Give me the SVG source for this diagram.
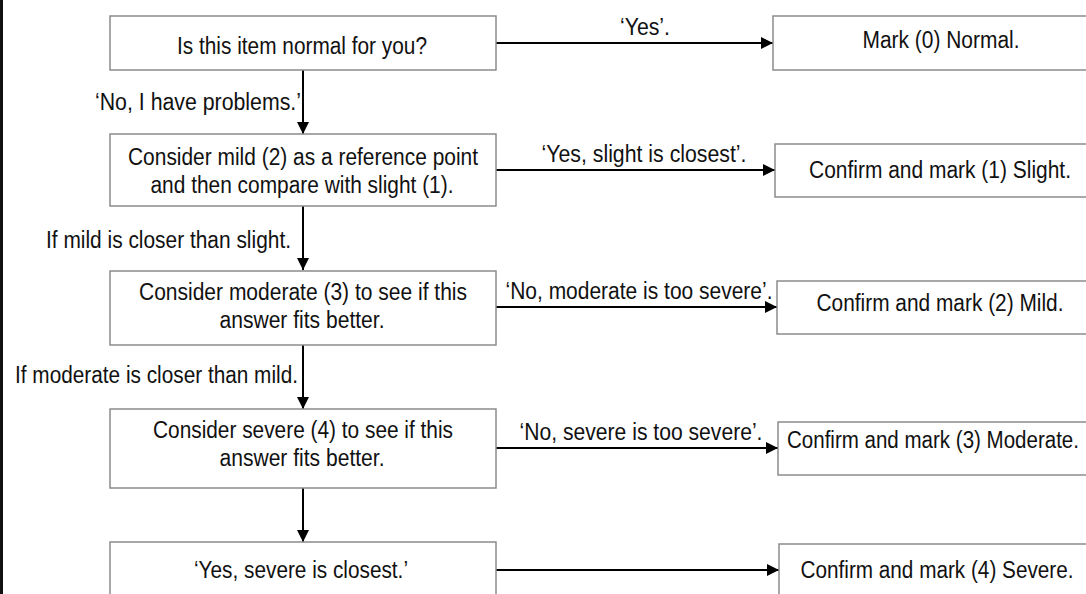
<svg xmlns="http://www.w3.org/2000/svg" width="1086" height="594" viewBox="0 0 1086 594">
<style>
.box{fill:#fff;stroke:#8c8c8c;stroke-width:1.5}
.t{font-family:"Liberation Sans",Arial,sans-serif;font-size:23px;fill:#111}
.c{text-anchor:middle}
.e{text-anchor:end}
.ln{stroke:#000;stroke-width:2;fill:none}
</style>
<defs>
<marker id="ah" markerWidth="12" markerHeight="12" viewBox="0 0 12 12" refX="12" refY="6" orient="auto" markerUnits="userSpaceOnUse">
<path d="M0,0 L12,6 L0,12 Z" fill="#000"/>
</marker>
</defs>
<rect width="1086" height="594" fill="#fff"/>
<rect x="0" y="0" width="3" height="594" fill="#111"/>

<g id="connectors">
<line class="ln" x1="496" y1="43" x2="773" y2="43" marker-end="url(#ah)"/>
<text class="t c" x="645" y="35" textLength="50" lengthAdjust="spacingAndGlyphs">‘Yes’.</text>
<line class="ln" x1="303" y1="70" x2="303" y2="134" marker-end="url(#ah)"/>
<text class="t e" x="301" y="110" textLength="206" lengthAdjust="spacingAndGlyphs">‘No, I have problems.’</text>
<line class="ln" x1="496" y1="170" x2="775" y2="170" marker-end="url(#ah)"/>
<text class="t c" x="644" y="162" textLength="205" lengthAdjust="spacingAndGlyphs">‘Yes, slight is closest’.</text>
<line class="ln" x1="303" y1="206" x2="303" y2="270" marker-end="url(#ah)"/>
<text class="t e" x="291" y="248" textLength="245" lengthAdjust="spacingAndGlyphs">If mild is closer than slight.</text>
<line class="ln" x1="496" y1="307" x2="777" y2="307" marker-end="url(#ah)"/>
<text class="t c" x="639" y="299" textLength="267" lengthAdjust="spacingAndGlyphs">‘No, moderate is too severe’.</text>
<line class="ln" x1="303" y1="345" x2="303" y2="409" marker-end="url(#ah)"/>
<text class="t e" x="298" y="383" textLength="283" lengthAdjust="spacingAndGlyphs">If moderate is closer than mild.</text>
<line class="ln" x1="496" y1="448" x2="778" y2="448" marker-end="url(#ah)"/>
<text class="t c" x="641" y="440" textLength="243" lengthAdjust="spacingAndGlyphs">‘No, severe is too severe’.</text>
<line class="ln" x1="303" y1="488" x2="303" y2="542" marker-end="url(#ah)"/>
<line class="ln" x1="496" y1="570" x2="779" y2="570" marker-end="url(#ah)"/>
</g>

<g id="q-normal">
<rect class="box" x="110" y="16" width="386" height="54"/>
<text class="t c" x="302" y="54" textLength="250" lengthAdjust="spacingAndGlyphs">Is this item normal for you?</text>
</g>
<g id="mark-normal">
<rect class="box" x="773" y="16" width="314.5" height="54"/>
<text class="t c" x="941" y="48" textLength="157" lengthAdjust="spacingAndGlyphs">Mark (0) Normal.</text>
</g>
<g id="q-mild">
<rect class="box" x="110" y="134" width="386" height="72"/>
<text class="t c" x="303" y="165" textLength="350" lengthAdjust="spacingAndGlyphs">Consider mild (2) as a reference point</text>
<text class="t c" x="302" y="193" textLength="303" lengthAdjust="spacingAndGlyphs">and then compare with slight (1).</text>
</g>
<g id="mark-slight">
<rect class="box" x="775" y="144" width="312.5" height="53"/>
<text class="t c" x="940" y="178" textLength="262" lengthAdjust="spacingAndGlyphs">Confirm and mark (1) Slight.</text>
</g>
<g id="q-moderate">
<rect class="box" x="110" y="271" width="386" height="74"/>
<text class="t c" x="303" y="300" textLength="328" lengthAdjust="spacingAndGlyphs">Consider moderate (3) to see if this</text>
<text class="t c" x="302" y="328" textLength="165" lengthAdjust="spacingAndGlyphs">answer fits better.</text>
</g>
<g id="mark-mild">
<rect class="box" x="777" y="281" width="310.5" height="53"/>
<text class="t c" x="940" y="311" textLength="247" lengthAdjust="spacingAndGlyphs">Confirm and mark (2) Mild.</text>
</g>
<g id="q-severe">
<rect class="box" x="110" y="409" width="386" height="79"/>
<text class="t c" x="303" y="438" textLength="300" lengthAdjust="spacingAndGlyphs">Consider severe (4) to see if this</text>
<text class="t c" x="302" y="466" textLength="165" lengthAdjust="spacingAndGlyphs">answer fits better.</text>
</g>
<g id="mark-moderate">
<rect class="box" x="778" y="422" width="309.5" height="53"/>
<text class="t c" x="933" y="448" textLength="292" lengthAdjust="spacingAndGlyphs">Confirm and mark (3) Moderate.</text>
</g>
<g id="yes-severe">
<rect class="box" x="110" y="542" width="386" height="60"/>
<text class="t c" x="301" y="578" textLength="214" lengthAdjust="spacingAndGlyphs">‘Yes, severe is closest.’</text>
</g>
<g id="mark-severe">
<rect class="box" x="779" y="544" width="308.5" height="60"/>
<text class="t c" x="937" y="578" textLength="273" lengthAdjust="spacingAndGlyphs">Confirm and mark (4) Severe.</text>
</g>
</svg>
